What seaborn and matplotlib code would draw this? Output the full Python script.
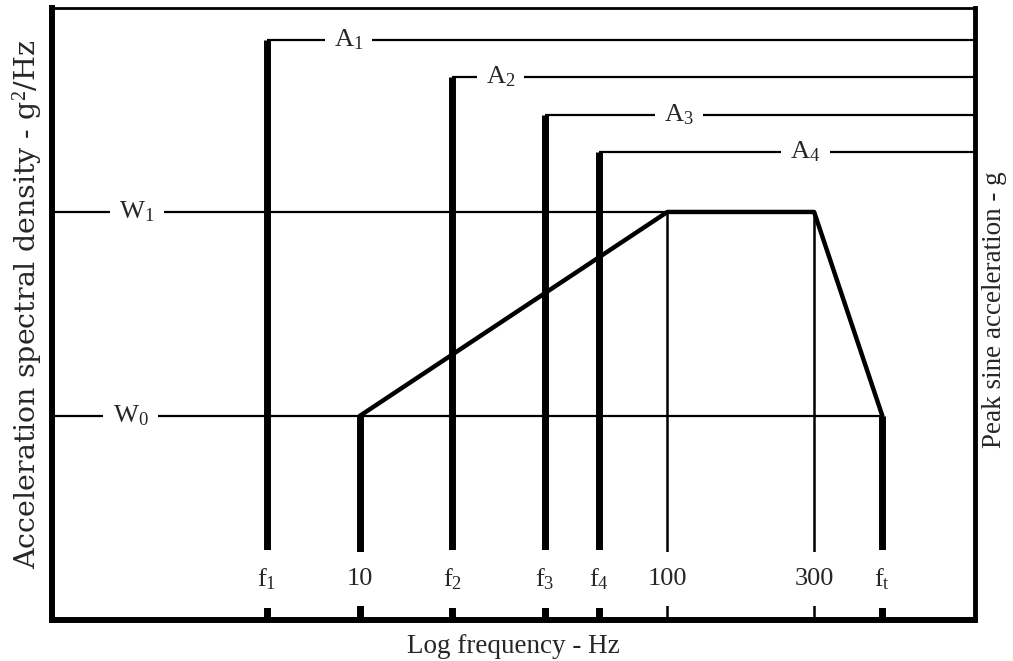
import matplotlib
matplotlib.use('Agg')
import matplotlib.pyplot as plt
import seaborn as sns

# frequency marks along the bottom (Hz, log axis)
tick_freqs = [5, 10, 20, 40, 60, 100, 300, 500]
tick_labels = [r'$\mathrm{f}_1$', '10', r'$\mathrm{f}_2$', r'$\mathrm{f}_3$',
               r'$\mathrm{f}_4$', '100', '300', r'$\mathrm{f}_\mathrm{t}$']

# sine dwells f1..f4 and their peak levels A1..A4 (arbitrary units)
sine_freqs = [5, 20, 40, 60]
sine_levels = [580, 543, 505, 468]
sine_names = [r'$\mathrm{A}_1$', r'$\mathrm{A}_2$', r'$\mathrm{A}_3$', r'$\mathrm{A}_4$']
sine_name_freqs = [9.2, 28.7, 109, 281]

# random vibration profile W0 -> W1 -> W1 -> W0
psd_freqs = [10, 100, 300, 500]
psd_levels = [204, 408, 408, 204]
w_names = [r'$\mathrm{W}_0$', r'$\mathrm{W}_1$']
w_levels = [204, 408]
w_name_freqs = [1.8, 1.89]

sns.set_theme(style="white")
plt.rcParams['font.family'] = ['Liberation Serif', 'DejaVu Serif']
plt.rcParams['mathtext.fontset'] = 'custom'
plt.rcParams['mathtext.rm'] = 'Liberation Serif'
plt.rcParams['mathtext.it'] = 'Liberation Serif:italic'

fs = 19
fig = plt.figure(figsize=(10.13, 6.61), dpi=100)
ax = fig.add_axes([0.0513, 0.062, 0.9112, 0.926])
ax.set_xscale('log')
ax.set_xlim(1, 1000)
ax.set_ylim(0, 612)

# horizontal reference lines
ax.hlines(sine_levels, sine_freqs, 1000, color='black', lw=1.6, zorder=1)
ax.hlines(w_levels, 1, [psd_freqs[-1], psd_freqs[1]], color='black', lw=1.6, zorder=1)

# thick verticals: sine dwells and ends of the random profile
ax.vlines(sine_freqs, 0, sine_levels, color='black', lw=5, zorder=2)
ax.vlines([psd_freqs[0], psd_freqs[-1]], 0, [psd_levels[0], psd_levels[-1]],
          color='black', lw=5, zorder=2)
# thin verticals at the plateau corners
ax.vlines(psd_freqs[1:3], 0, psd_levels[1:3], color='black', lw=1.8, zorder=2)

# PSD profile
sns.lineplot(x=psd_freqs, y=psd_levels, sort=False, color='black', lw=3.2, ax=ax, zorder=3)

box = dict(facecolor='white', edgecolor='none', boxstyle='square,pad=0.35')
for f, lev, name in zip(sine_name_freqs, sine_levels, sine_names):
    ax.text(f, lev, name, fontsize=fs, ha='center', va='center', bbox=box, zorder=4)
for f, lev, name in zip(w_name_freqs, w_levels, w_names):
    ax.text(f, lev, name, fontsize=fs, ha='center', va='center', bbox=box, zorder=4)

tbox = dict(facecolor='white', edgecolor='none', boxstyle='square,pad=0.6')
for f, lab in zip(tick_freqs, tick_labels):
    ax.text(f, 41, lab, fontsize=fs, ha='center', va='center', bbox=tbox, zorder=4)

ax.set_xticks([])
ax.set_yticks([])
ax.minorticks_off()
for side, w in [('left', 4.3), ('bottom', 4.3), ('right', 3.5), ('top', 2)]:
    ax.spines[side].set_visible(True)
    ax.spines[side].set_color('black')
    ax.spines[side].set_linewidth(w)

ax.set_xlabel('Log frequency - Hz', fontsize=19.5, labelpad=10)
fig.text(0.027, 0.539, r'Acceleration spectral density - g$^2$/Hz', fontsize=20.5,
         family=['DejaVu Serif'], rotation=90, ha='center', va='center')
fig.text(0.982, 0.531, 'Peak sine acceleration - g', fontsize=19.5,
         rotation=90, ha='center', va='center')

fig.savefig('out.png', dpi=100)
